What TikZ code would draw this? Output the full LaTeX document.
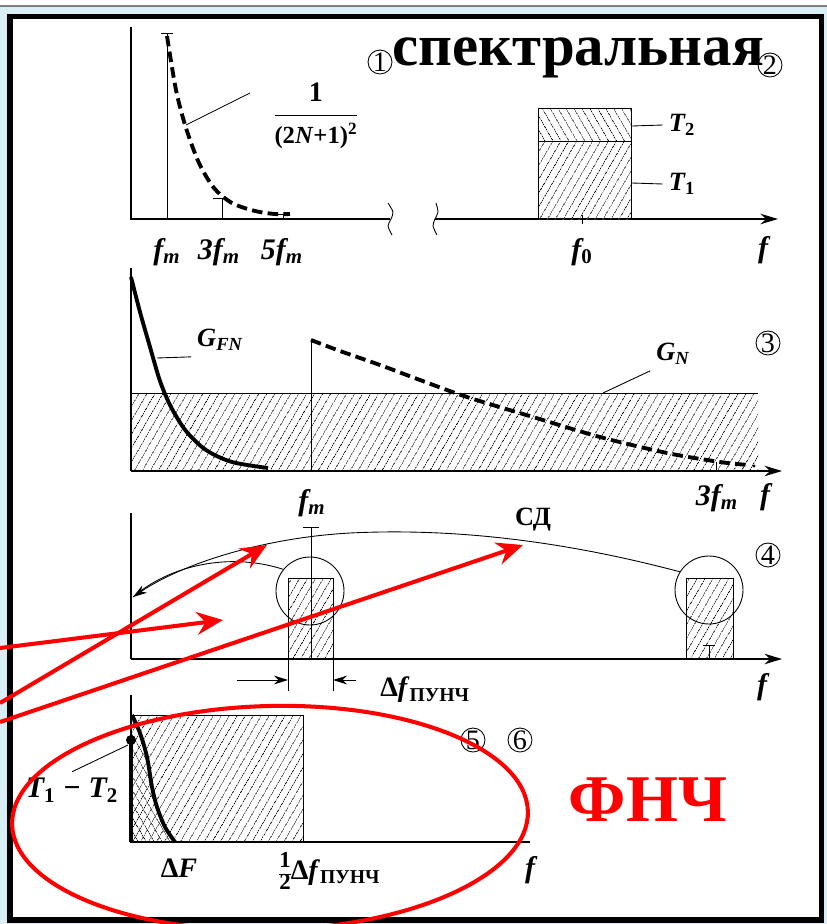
\documentclass[tikz,border=0pt]{standalone}
\usepackage{fontspec}
\setmainfont{Liberation Serif}
\usetikzlibrary{arrows.meta,patterns.meta}

\definecolor{frameblue}{HTML}{DAEEF6}
\definecolor{markred}{HTML}{FF0000}

\begin{document}
\begin{tikzpicture}[x=0.02cm, y=-0.02cm,
    thinline/.style={line width=0.5pt},
    axisline/.style={line width=0.7pt},
    axisarrow/.style={axisline, -{Stealth[length=10pt,width=6pt]}},
    curve/.style={line width=2.2pt},
    dashcurve/.style={line width=2.2pt, dash pattern=on 6pt off 3pt},
    hatch/.style={pattern={Lines[angle=60,distance=4pt,line width=0.45pt]}},
    backhatch/.style={pattern={Lines[angle=-60,distance=4pt,line width=0.45pt]}},
    cnum/.style={circle, draw, thinline, minimum size=0.48cm, inner sep=0pt,
      font=\fontsize{16}{16}\selectfont},
    ring/.style={circle, draw, thinline, minimum size=1.36cm, inner sep=0pt},
    flabel/.style={font=\fontsize{17}{17}\selectfont\bfseries\itshape},
    tlabel/.style={font=\fontsize{15}{15}\selectfont\bfseries\itshape},
    redline/.style={markred, line width=2.3pt},
    redarrow/.style={redline, -{Stealth[length=15pt,width=13pt,inset=5pt]}}]

  \useasboundingbox (0,0) rectangle (827,924);

  % --- frame ---
  \fill[frameblue] (0,0) rectangle (827,924);
  \fill[white] (0,0) rectangle (827,5);
  \draw[gray, line width=0.8pt] (0,6) -- (827,6);
  \draw[line width=3.4pt, fill=white] (10,16.5) rectangle (821.5,920);

  % --- panel 1: line spectrum and band ---
  \draw[axisline] (131,27) -- (131,219) -- (390,219);
  \draw[thinline] plot[smooth] coordinates {(388,203) (393,212) (391,219) (388,226) (392,235)};
  \draw[thinline] plot[smooth] coordinates {(436,203) (438,212) (435,219) (433,226) (437,235)};
  \draw[axisarrow] (435,219) -- (778,219);

  \draw[thinline] (167,219) -- (167,33);
  \draw[thinline] (161,33) -- (173,33);
  \draw[thinline] (222,219) -- (222,198) (213,198) -- (227,198);
  \draw[thinline] (283,219) -- (283,214) (270,214) -- (290,214);
  \draw[dashcurve] plot[smooth] coordinates {(167,36) (176,90) (186,128) (199,163)
    (214,188) (232,203) (255,211) (275,214) (290,214)};

  \fill[backhatch] (538,108) rectangle (631,141);
  \fill[hatch] (538,141) rectangle (631,219);
  \draw[thinline] (538,219) -- (538,108) -- (631,108) -- (631,219) (538,141) -- (631,141);
  \draw[thinline] (582,215) -- (582,224);

  \node[font=\fontsize{14}{14}\selectfont\bfseries, inner sep=0pt] (frac) at (316,117)
    {\begin{tabular}{@{}c@{}}\fontsize{16}{16}\selectfont 1\\[3pt]\hline
      \rule{0pt}{16pt}(2\textit{N}+1)\textsuperscript{2}\end{tabular}};
  \coordinate (fracfoot) at (186,125);
  \coordinate (frachead) at (250,93);
  \draw[thinline] (fracfoot) -- (frachead);

  \node[cnum] (n1) at (380,62) {1};
  \node[font=\fontsize{33.5}{33.5}\selectfont\bfseries, anchor=west, inner sep=0pt] (title)
    at (392,58) {спектральная};
  \node[cnum] (n2) at (770,65) {2};

  \node[tlabel] (T2) at (682,125) {T\textsubscript{\textup{2}}};
  \node[tlabel] (T1) at (682,184) {T\textsubscript{\textup{1}}};
  \coordinate (t2foot) at (632,126);
  \coordinate (t1foot) at (632,183);
  \draw[thinline] (t2foot) -- (T2.west);
  \draw[thinline] (t1foot) -- (T1.west);

  \node[flabel] (fm1) at (167,252) {f\textsubscript{m}};
  \node[flabel] (f3m1) at (219,252) {3f\textsubscript{m}};
  \node[flabel] (f5m1) at (282,252) {5f\textsubscript{m}};
  \node[flabel] (f01) at (582,252) {f\textsubscript{\textup{0}}};
  \node[flabel] (f1) at (763,250) {f};

  % --- panel 2: noise and signal ---
  \fill[hatch] (131,393) rectangle (758,471);
  \draw[thinline] (131,393) -- (758,393);
  \draw[axisline] (131,268) -- (131,471);
  \draw[axisarrow] (131,471) -- (782,471);
  \draw[curve] plot[smooth] coordinates {(131,277) (140,312) (150,347) (160,381)
    (171,407) (186,431) (206,450) (232,462) (268,468)};
  \draw[thinline] (311,340) -- (311,471);
  \draw[dashcurve] plot[smooth] coordinates {(311,340) (340,351) (380,365) (420,380)
    (467,397) (533,417) (600,437) (667,453) (720,462) (748,465)};
  \fill (754,466) circle (1.6);
  \draw[thinline] (716,462) -- (716,471);

  \node[tlabel] (gfn) at (220,340) {G\textsubscript{FN}};
  \node[tlabel] (gn) at (673,354) {G\textsubscript{N}};
  \coordinate (gfnfoot) at (157,358);
  \coordinate (gnfoot) at (603,393);
  \draw[thinline] (gfnfoot) -- (gfn.south west);
  \draw[thinline] (gnfoot) -- (gn.south west);
  \node[cnum] (n3) at (768,343) {3};
  \node[flabel] (fm2) at (312,503) {f\textsubscript{m}};
  \node[flabel] (f3m2) at (717,498) {3f\textsubscript{m}};
  \node[flabel] (f2) at (765,497) {f};

  % --- panel 3: filters ---
  \fill[hatch] (288,578) rectangle (333,659);
  \fill[hatch] (686,578) rectangle (733,659);
  \draw[thinline] (288,659) -- (288,578) -- (333,578) -- (333,659);
  \draw[thinline] (686,659) -- (686,578) -- (733,578) -- (733,659);
  \draw[axisline] (131,513) -- (131,659);
  \draw[axisarrow] (131,659) -- (782,659);
  \draw[thinline] (311,527) -- (311,659) (303,527) -- (319,527);
  \draw[thinline] (709,645) -- (709,659) (703,645) -- (715,645);
  \node[ring] (cl) at (310,591) {};
  \node[ring] (cr) at (709,590) {};
  \coordinate (sdtip) at (133,597);
  \draw[thinline, -{Stealth[length=8pt,width=5pt]}] (cr.148)
    .. controls (560,540) and (450,528) .. (350,533)
    .. controls (260,538) and (180,565) .. (sdtip);
  \draw[thinline] (cl.141) .. controls (230,552) and (170,565) .. (sdtip);
  \node[font=\fontsize{15}{15}\selectfont\bfseries] (sd) at (533,520) {СД};
  \node[cnum] (n4) at (768,555) {4};

  \draw[thinline] (288,659) -- (288,691) (333,659) -- (333,691);
  \coordinate (dimla) at (237,680);
  \coordinate (dimlb) at (288,680);
  \coordinate (dimra) at (356,680);
  \coordinate (dimrb) at (333,680);
  \draw[thinline, -{Stealth[length=8pt,width=5pt]}] (dimla) -- (dimlb);
  \draw[thinline, -{Stealth[length=8pt,width=5pt]}] (dimra) -- (dimrb);
  \node[anchor=west, inner sep=0pt, font=\fontsize{16}{16}\selectfont\bfseries] (dfp)
    at (380,690) {Δ\textit{f}\textsubscript{ПУНЧ}};
  \node[flabel] (f3) at (762,687) {f};

  % --- panel 4: low-pass output ---
  \fill[hatch] (131,715) rectangle (303,842);
  \fill[backhatch] (131,715) -- plot[smooth] coordinates {(132,715) (140,733)
    (147,757) (152,787) (157,807) (165,827) (175,842)} -- (131,842) -- cycle;
  \draw[thinline] (131,715) -- (303,715) -- (303,842);
  \draw[axisline] (131,695) -- (131,842) -- (530,842);
  \draw[curve] plot[smooth] coordinates {(132,715) (140,733) (147,757) (152,787)
    (157,807) (165,827) (175,842)};
  \draw[line width=2.5pt] (131,740) -- (131,842);
  \fill (131,740) circle (5);
  \node[tlabel, font=\fontsize{17}{17}\selectfont\bfseries\itshape] (t12) at (72,790)
    {T\textsubscript{\textup{1}} − T\textsubscript{\textup{2}}};
  \coordinate (t12foot) at (128,745);
  \draw[thinline] (t12foot) -- (t12.north);
  \node[font=\fontsize{16}{16}\selectfont\bfseries] (dF) at (179,868) {Δ\textit{F}};
  \node[anchor=west, inner sep=0pt, font=\fontsize{16}{16}\selectfont\bfseries] (half)
    at (279,874) {{\fontsize{13}{13}\selectfont\renewcommand\arraystretch{0.85}%
      \begin{tabular}{@{}c@{}}1\\\hline 2\end{tabular}}Δ\textit{f}\textsubscript{ПУНЧ}};
  \node[flabel] (f4) at (530,870) {f};
  \node[cnum] (n5) at (473,740) {5};
  \node[cnum] (n6) at (520,740) {6};
  \node[markred, font=\fontsize{38}{38}\selectfont\bfseries] (lpf) at (648,800) {ФНЧ};

  % --- red marks ---
  \coordinate (r1s) at (0,648);
  \coordinate (r1e) at (223,620);
  \coordinate (r2s) at (0,703);
  \coordinate (r2e) at (267,545);
  \coordinate (r3s) at (0,722);
  \coordinate (r3e) at (523,545);
  \draw[redarrow] (r1s) -- (r1e);
  \draw[redarrow] (r2s) -- (r2e);
  \draw[redarrow] (r3s) -- (r3e);
  \draw[redline, rotate around={1.5:(270,818)}] (270,818) ellipse [x radius=258, y radius=112];

\end{tikzpicture}
\end{document}
